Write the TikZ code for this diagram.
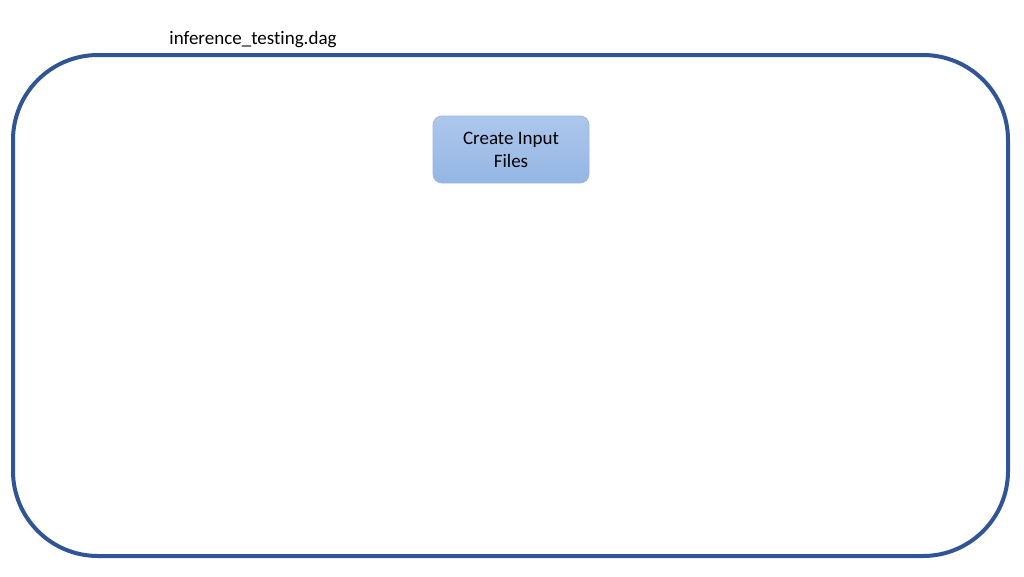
\documentclass[tikz,border=0pt]{standalone}
\usepackage{fontspec}
\setmainfont[Ligatures=NoCommon]{Carlito}
\definecolor{frameblue}{HTML}{2F5597}
\definecolor{boxtop}{HTML}{ADC7EC}
\definecolor{boxbot}{HTML}{94B6E4}
\definecolor{boxedge}{HTML}{9AB8E2}
\tikzset{
  frame/.style={draw=frameblue, line width=4pt, rounded corners=85pt},
  stepbox/.style={draw=boxedge, line width=0.8pt, rounded corners=9pt, top color=boxtop, bottom color=boxbot,
    minimum width=156pt, minimum height=67pt, align=center, font=\fontsize{19}{23}\selectfont, inner sep=0pt},
  title/.style={font=\fontsize{19}{22}\selectfont, inner sep=0pt}
}
\begin{document}
\begin{tikzpicture}[x=1pt,y=-1pt]
\useasboundingbox (0,0) rectangle (1024,576);
\draw[frame] (13,55) rectangle (1008,556);
\node[title] (t) at (253,40) {inference\_testing.dag};
\node[stepbox] (a) at (511,149.5) {Create Input\\Files};
\end{tikzpicture}
\end{document}
